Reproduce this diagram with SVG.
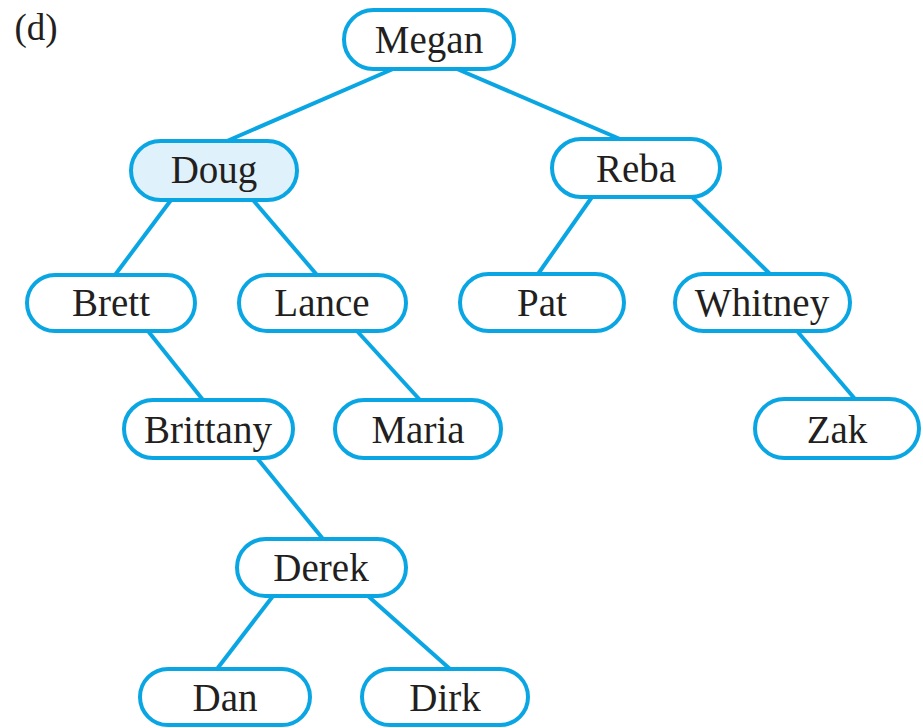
<svg xmlns="http://www.w3.org/2000/svg" width="923" height="728" viewBox="0 0 923 728">
  <style>
    .node rect { fill: #ffffff; stroke: #0aa6e3; stroke-width: 4; }
    .node.hl rect { fill: #dff1fb; }
    .node text, .label { font-family: "Liberation Serif", "Times New Roman", serif; font-size: 39px; fill: #231f20; text-anchor: middle; }
    .edges line { stroke: #0aa6e3; stroke-width: 4; stroke-linecap: butt; }
  </style>
  <rect width="923" height="728" fill="#ffffff"/>
  <text class="label" x="36" y="40" style="font-size:37px">(d)</text>

  <g class="edges">
    <line x1="393" y1="69" x2="227" y2="141"/>
    <line x1="457" y1="69" x2="620" y2="139"/>
    <line x1="171" y1="200" x2="115" y2="275"/>
    <line x1="253" y1="200" x2="317" y2="275"/>
    <line x1="592" y1="197" x2="538" y2="274"/>
    <line x1="692" y1="197" x2="770" y2="274"/>
    <line x1="148" y1="331" x2="203" y2="400"/>
    <line x1="357" y1="331" x2="420" y2="400"/>
    <line x1="797" y1="331" x2="855" y2="399"/>
    <line x1="257" y1="458" x2="323" y2="539"/>
    <line x1="273" y1="596" x2="217" y2="669"/>
    <line x1="368" y1="596" x2="450" y2="669"/>
  </g>

  <g id="megan" class="node"><rect x="344" y="10" width="170" height="59" rx="29.5"/><text x="429" y="53">Megan</text></g>
  <g id="doug" class="node hl"><rect x="131" y="141" width="166" height="59" rx="29.5"/><text x="214" y="183">Doug</text></g>
  <g id="reba" class="node"><rect x="552" y="139" width="168" height="58" rx="29"/><text x="636" y="182">Reba</text></g>
  <g id="brett" class="node"><rect x="27" y="275" width="168" height="56" rx="28"/><text x="111" y="316">Brett</text></g>
  <g id="lance" class="node"><rect x="239" y="275" width="167" height="56" rx="28"/><text x="322" y="316">Lance</text></g>
  <g id="pat" class="node"><rect x="460" y="274" width="164" height="57" rx="28.5"/><text x="542" y="316">Pat</text></g>
  <g id="whitney" class="node"><rect x="675" y="274" width="175" height="57" rx="28.5"/><text x="762" y="316">Whitney</text></g>
  <g id="brittany" class="node"><rect x="124" y="400" width="169" height="58" rx="29"/><text x="208" y="443">Brittany</text></g>
  <g id="maria" class="node"><rect x="335" y="400" width="166" height="58" rx="29"/><text x="418" y="443">Maria</text></g>
  <g id="zak" class="node"><rect x="755" y="399" width="164" height="59" rx="29.5"/><text x="837" y="443">Zak</text></g>
  <g id="derek" class="node"><rect x="237" y="539" width="169" height="57" rx="28.5"/><text x="321" y="581">Derek</text></g>
  <g id="dan" class="node"><rect x="140" y="669" width="170" height="56" rx="28"/><text x="225" y="711">Dan</text></g>
  <g id="dirk" class="node"><rect x="362" y="669" width="166" height="56" rx="28"/><text x="445" y="711">Dirk</text></g>
</svg>
